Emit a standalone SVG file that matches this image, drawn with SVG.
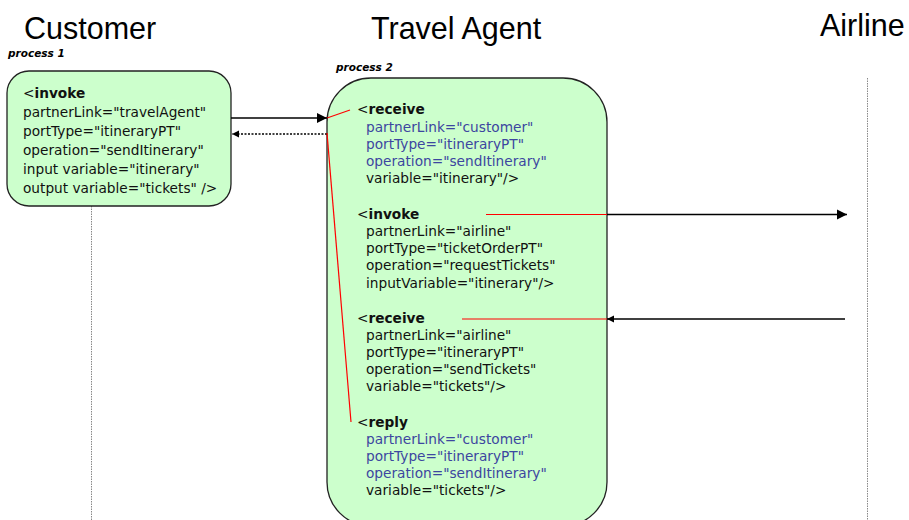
<svg xmlns="http://www.w3.org/2000/svg" width="909" height="520" viewBox="0 0 909 520">
<style>
.title{font-family:"Liberation Sans",Arial,sans-serif;font-size:30.5px;fill:#000}
.proc{font-family:"DejaVu Sans",sans-serif;font-size:10.5px;font-weight:bold;font-style:italic;fill:#000}
.code{font-family:"DejaVu Sans",sans-serif;font-size:13.7px;fill:#111}
.blue{fill:#3c46a0}
.kw{font-weight:bold}
.box{fill:#ccffcc;stroke:#222;stroke-width:1.3}
.life{stroke:#888;stroke-width:1;stroke-dasharray:1.5,1}
.msg{stroke:#000;stroke-width:1.5;fill:none}
.red{stroke:#ff0000;stroke-width:1.2;fill:none}
</style>
<defs>
<marker id="ah" viewBox="0 0 10 10" refX="10" refY="5" markerWidth="10" markerHeight="12" markerUnits="userSpaceOnUse" orient="auto"><path d="M0,0L10,5L0,10z" fill="#000"/></marker>
<marker id="ahs" viewBox="0 0 10 10" refX="10" refY="5" markerWidth="7" markerHeight="8" markerUnits="userSpaceOnUse" orient="auto"><path d="M0,0L10,5L0,10z" fill="#000"/></marker>
</defs>
<rect width="909" height="520" fill="#fff"/>
<text class="title" x="24" y="39">Customer</text>
<text class="title" x="371" y="39">Travel Agent</text>
<text class="title" x="820" y="36">Airline</text>
<text class="proc" x="8" y="57">process 1</text>
<text class="proc" x="336" y="71">process 2</text>
<g id="lifelines">
<line class="life" x1="91.5" y1="206" x2="91.5" y2="520"/>
<line class="life" x1="867.5" y1="78" x2="867.5" y2="520"/>
</g>
<g id="customer">
<rect class="box" x="7" y="71" width="224" height="135" rx="22" ry="22"/>
<text class="code" x="23" y="98">&lt;<tspan class="kw">invoke</tspan></text>
<text class="code" x="23" y="117">partnerLink="travelAgent"</text>
<text class="code" x="23" y="136">portType="itineraryPT"</text>
<text class="code" x="23" y="155">operation="sendItinerary"</text>
<text class="code" x="23" y="174">input variable="itinerary"</text>
<text class="code" x="23" y="193">output variable="tickets" /&gt;</text>
</g>
<g id="travelagent">
<rect class="box" x="327" y="78" width="280" height="448" rx="44" ry="44"/>
<text class="code" x="357" y="114">&lt;<tspan class="kw">receive</tspan></text>
<text class="code blue" x="366" y="132">partnerLink="customer"</text>
<text class="code blue" x="366" y="149">portType="itineraryPT"</text>
<text class="code blue" x="366" y="166">operation="sendItinerary"</text>
<text class="code" x="366" y="183">variable="itinerary"/&gt;</text>
<text class="code" x="357" y="219">&lt;<tspan class="kw">invoke</tspan></text>
<text class="code" x="366" y="236">partnerLink="airline"</text>
<text class="code" x="366" y="253">portType="ticketOrderPT"</text>
<text class="code" x="366" y="270">operation="requestTickets"</text>
<text class="code" x="366" y="288">inputVariable="itinerary"/&gt;</text>
<text class="code" x="357" y="323">&lt;<tspan class="kw">receive</tspan></text>
<text class="code" x="366" y="340">partnerLink="airline"</text>
<text class="code" x="366" y="357">portType="itineraryPT"</text>
<text class="code" x="366" y="374">operation="sendTickets"</text>
<text class="code" x="366" y="391">variable="tickets"/&gt;</text>
<text class="code" x="357" y="427">&lt;<tspan class="kw">reply</tspan></text>
<text class="code blue" x="366" y="444">partnerLink="customer"</text>
<text class="code blue" x="366" y="461">portType="itineraryPT"</text>
<text class="code blue" x="366" y="478">operation="sendItinerary"</text>
<text class="code" x="366" y="495">variable="tickets"/&gt;</text>
</g>
<g id="connectors">
<line class="msg" x1="231" y1="118" x2="327" y2="118" marker-end="url(#ah)"/>
<line class="msg" x1="327" y1="134" x2="232" y2="134" stroke-dasharray="2,1.5" marker-end="url(#ahs)"/>
<line class="red" x1="327" y1="118" x2="350" y2="110"/>
<line class="red" x1="327" y1="133" x2="351" y2="422"/>
<line class="red" x1="486" y1="214.5" x2="607" y2="214.5" stroke-width="2"/>
<line class="msg" x1="607" y1="214.5" x2="847" y2="214.5" marker-end="url(#ah)"/>
<line class="red" x1="462" y1="319" x2="607" y2="319" stroke-width="2"/>
<line class="msg" x1="845" y1="319" x2="607" y2="319" marker-end="url(#ahs)"/>
</g>
</svg>
